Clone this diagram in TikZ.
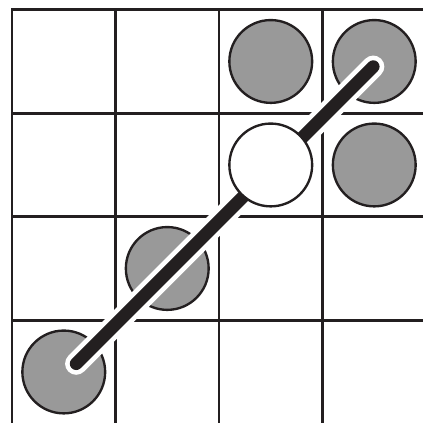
\documentclass[tikz,border=0pt]{standalone}
\definecolor{ink}{RGB}{35,31,32}
\begin{document}
\begin{tikzpicture}[
   x=1cm,y=1cm,
   grid/.style={ink,line width=0.75pt,line cap=rect},
   stone/.style={circle,draw=ink,line width=0.65pt,fill=black!40,minimum size=0.8cm,inner sep=0pt},
   empty/.style={stone,fill=white},
   halo/.style={white,line width=6.1pt,line cap=round},
   bar/.style={ink,line width=3.5pt,line cap=round}
 ]
  \useasboundingbox (-0.116,0.007) rectangle (3.971,4.094);
  \clip (-0.116,0.007) rectangle (3.971,4.094);
  \foreach \y in {1,2,3,4} \draw[grid] (0,\y)--(4.2,\y);
  \foreach \x in {0,1,2,3} \draw[grid] (\x,4)--(\x,-0.2);
  \node[stone] (a1) at (0.5,0.5) {};
  \node[stone] (b2) at (1.5,1.5) {};
  \node[stone] (d3) at (3.5,2.5) {};
  \node[stone] (c4) at (2.5,3.5) {};
  \node[stone] (d4) at (3.5,3.5) {};
  \coordinate (from) at (0.62,0.58);
  \coordinate (to) at (3.49,3.45);
  \draw[halo] (from)--(to);
  \draw[bar] (from)--(to);
  \node[empty] (c3) at (2.5,2.5) {};
\end{tikzpicture}
\end{document}
